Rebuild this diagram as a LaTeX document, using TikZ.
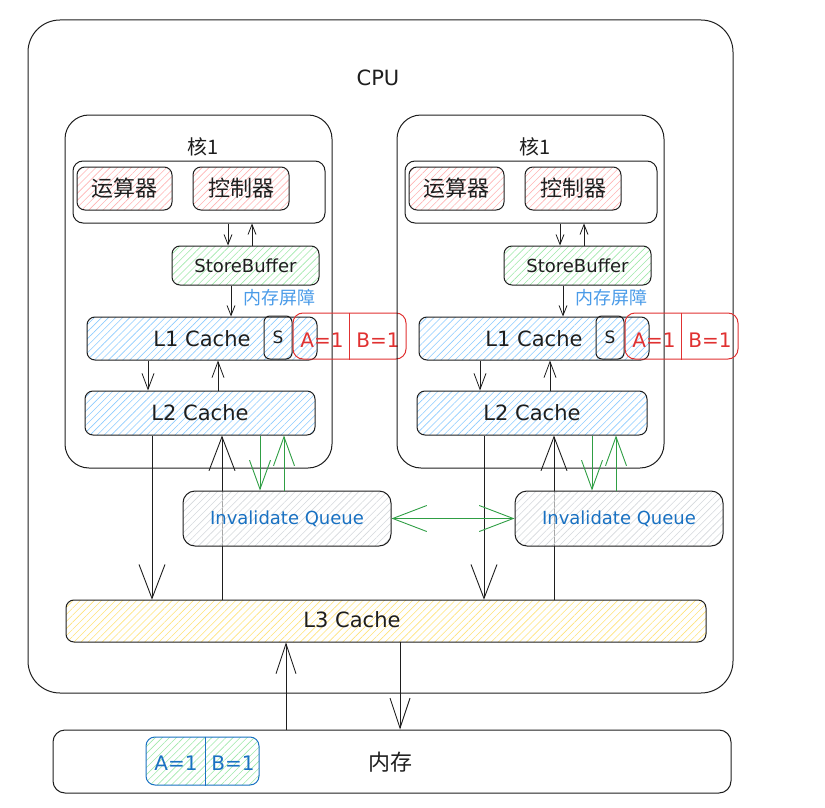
\documentclass[tikz,border=0pt]{standalone}
\usepackage{fontspec}
\setmainfont{DejaVu Sans}
\newfontfamily\cjk{Noto Sans CJK SC}
\usetikzlibrary{arrows.meta,patterns.meta}
\definecolor{ink}{HTML}{1E1E1E}
\definecolor{redh}{HTML}{FFB3B3}
\definecolor{greenh}{HTML}{9FE8AA}
\definecolor{blueh}{HTML}{8CCBFF}
\definecolor{yellowh}{HTML}{FFE27A}
\definecolor{greyh}{HTML}{D5D9DD}
\definecolor{exred}{HTML}{E03131}
\definecolor{exblue}{HTML}{1971C2}
\definecolor{barrier}{HTML}{4A9BE8}
\definecolor{exgreen}{HTML}{2F9E44}
\newcommand\fsz[1]{\fontsize{#1}{#1}\selectfont}
\begin{document}
\begin{tikzpicture}[x=1pt,y=-1pt,
  box/.style={draw=ink, line width=1pt, rounded corners=8pt, inner sep=0pt, text=ink},
  hatch/.style={pattern={Lines[angle=45,distance=5pt,line width=0.6pt]}, pattern color=#1},
  cachefont/.style={font=\fsz{21}},
  abfont/.style={font=\fsz{20}},
  arrs/.style={draw=ink, line width=0.8pt, -{Straight Barb[length=10pt,width=8pt]}},
  arrm/.style={draw=ink, line width=0.8pt, -{Straight Barb[length=16pt,width=12pt]}},
  arrb/.style={draw=ink, line width=0.9pt, -{Straight Barb[length=34pt,width=26pt]}},
  arrmem/.style={draw=ink, line width=0.9pt, -{Straight Barb[length=30pt,width=20pt]}},
  garr/.style={draw=exgreen, line width=0.9pt, -{Straight Barb[length=29pt,width=21pt]}},
  gdbl/.style={draw=exgreen, line width=0.9pt, {Straight Barb[length=34pt,width=26pt]}-{Straight Barb[length=34pt,width=26pt]}}
]
\useasboundingbox (0,0) rectangle (825,808);
% CPU
\node[box, minimum width=705pt, minimum height=673pt, rounded corners=32pt] (cpu) at (380.5,356.5) {};
\node[font=\fsz{21}, text=ink] (cpul) at (378,78) {CPU};
% L3 and memory
\node[box, hatch=yellowh, minimum width=640pt, minimum height=42pt] (l3) at (386,621) {};
\node[cachefont, text=ink] (l3t) at (352,620) {L3 Cache};
\node[box, minimum width=678pt, minimum height=63pt, rounded corners=12pt] (mem) at (392,761.5) {};
\node[font=\cjk\fsz{22}, text=ink] (memt) at (390,762) {内存};
\node[box, draw=exblue, hatch=greenh, minimum width=113pt, minimum height=48pt, rounded corners=9pt] (abm) at (202.5,761) {};
\draw[exblue, line width=0.8pt] ([xshift=2.5pt]abm.north) -- ([xshift=2.5pt]abm.south);
\node[abfont, text=exblue] (abmA) at (176,763) {A=1};
\node[abfont, text=exblue] (abmB) at (233,763) {B=1};
% cores
\foreach \s/\dx in {a/0,b/332}{
  \node[box, minimum width=267pt, minimum height=353pt, rounded corners=24pt] (core\s) at (198.5+\dx,291.5) {};
  \node[font=\cjk\fsz{20}, text=ink] (hl\s) at (203+\dx,147) {核1};
  \node[box, minimum width=252pt, minimum height=62pt, rounded corners=10pt] (in\s) at (199+\dx,192) {};
  \node[box, hatch=redh, minimum width=95pt, minimum height=43pt, font=\cjk\fsz{22}] (alu\s) at (124.5+\dx,188.5) {运算器};
  \node[box, hatch=redh, minimum width=96pt, minimum height=43pt, font=\cjk\fsz{22}] (ctl\s) at (241+\dx,188.5) {控制器};
  \node[box, hatch=greenh, minimum width=147pt, minimum height=39pt, font=\fsz{18}] (sb\s) at (245.5+\dx,265.5) {StoreBuffer};
  \node[font=\cjk\fsz{18}, text=barrier] (mb\s) at (279+\dx,298) {内存屏障};
  \node[box, hatch=blueh, minimum width=230pt, minimum height=43pt, cachefont] (l1\s) at (202+\dx,338.5) {L1 Cache};
  \node[box, minimum width=28pt, minimum height=43pt, rounded corners=6pt, font=\fsz{17}] (s\s) at (278+\dx,337.5) {S};
  \node[box, draw=exred, minimum width=113pt, minimum height=46pt, rounded corners=10pt] (abr\s) at (349.5+\dx,336) {};
  \draw[exred, line width=0.7pt] (abr\s.north) -- (abr\s.south);
  \node[abfont, text=exred] (abrA\s) at (322+\dx,340) {A=1};
  \node[abfont, text=exred] (abrB\s) at (378+\dx,340) {B=1};
  \node[box, hatch=blueh, minimum width=230pt, minimum height=44pt, cachefont] (l2\s) at (200+\dx,413) {L2 Cache};
  \draw[arrs] ([xshift=29pt]in\s.south) -- ([xshift=-17.5pt]sb\s.north);
  \draw[arrs] ([xshift=6.5pt]sb\s.north) -- ([xshift=53pt]in\s.south);
  \draw[arrs] ([xshift=-14.5pt]sb\s.south) -- ([xshift=29pt]l1\s.north);
  \draw[arrm] ([xshift=-54pt]l1\s.south) -- ([xshift=-52pt]l2\s.north);
  \draw[arrm] ([xshift=18pt]l2\s.north) -- ([xshift=16pt]l1\s.south);
  \pgfmathsetmacro\xa{\dx-234}
  \pgfmathsetmacro\xb{\dx-164}
  \draw[arrb] ([xshift=-48pt]l2\s.south) -- ([xshift=\xa pt]l3.north);
  \draw[arrb] ([xshift=\xb pt]l3.north) -- ([xshift=22pt]l2\s.south);
  \node[box, hatch=greyh, preaction={fill=white, fill opacity=0.6}, minimum width=208pt, minimum height=55pt, rounded corners=12pt, text=exblue, font=\fsz{18}] (iq\s) at (287+\dx,518.5) {Invalidate Queue};
  \draw[garr] ([xshift=60pt]l2\s.south) -- ([xshift=-27pt]iq\s.north);
  \draw[garr] ([xshift=-3pt]iq\s.north) -- ([xshift=84pt]l2\s.south);
}
\draw[gdbl] (iqa.east) -- (iqb.west);
\draw[arrmem] ([xshift=-106pt]mem.north) -- ([xshift=-100pt]l3.south);
\draw[arrmem] ([xshift=14pt]l3.south) -- ([xshift=8pt]mem.north);
\end{tikzpicture}
\end{document}
